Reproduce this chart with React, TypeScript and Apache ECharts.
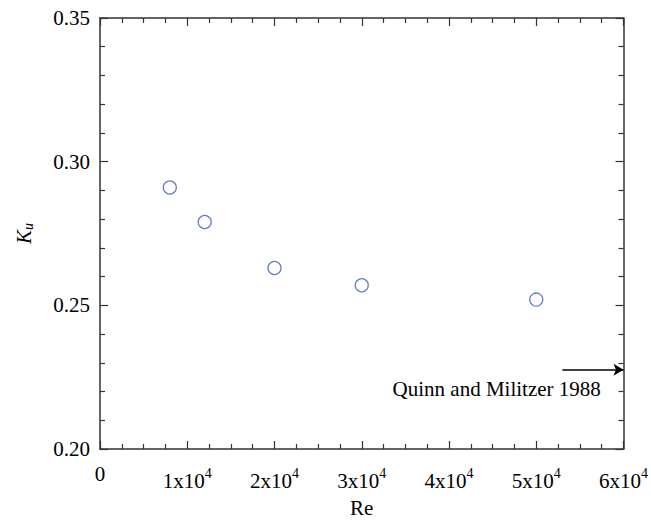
import React, { useEffect, useRef } from "react";
import * as echarts from "echarts";

const reValues = [8000, 12000, 20000, 30000, 50000];
const kuValues = [0.291, 0.279, 0.263, 0.257, 0.252];
const xTickValues = [0, 10000, 20000, 30000, 40000, 50000, 60000];
const xTickMantissa = ["0", "1", "2", "3", "4", "5", "6"];
const yTickValues = [0.2, 0.25, 0.3, 0.35];
const yTickLabels = ["0.20", "0.25", "0.30", "0.35"];
const refArrowStart = [53000, 0.2276];
const refArrowEnd = [60000, 0.2276];
const refLabelAnchor = [57400, 0.2208];
const refLabelText = "Quinn and Militzer 1988";

const FONT = "Liberation Serif";
const AXIS_COLOR = "#333333";
const MARK_COLOR = "#3b5bb5";

export default function App() {
  const ref = useRef<HTMLDivElement>(null);
  useEffect(() => {
    if (!ref.current) return;
    const chart = echarts.init(ref.current, undefined, { renderer: "svg" });
    const axisLine = { show: true, onZero: false, lineStyle: { color: AXIS_COLOR, width: 1.5 } };
    const xTicks = {
      axisTick: { show: true, inside: true, length: 8, lineStyle: { color: AXIS_COLOR, width: 1.2 } },
      minorTick: { show: true, splitNumber: 4, length: 5, lineStyle: { color: AXIS_COLOR, width: 1.2 } },
    };
    const yTicks = {
      axisTick: { show: true, inside: true, length: 8, lineStyle: { color: AXIS_COLOR, width: 1.2 } },
      minorTick: { show: true, splitNumber: 5, length: 5, lineStyle: { color: AXIS_COLOR, width: 1.2 } },
    };
    const xLabel = (v: number) => {
      const i = xTickValues.indexOf(v);
      const m = i >= 0 ? xTickMantissa[i] : String(v / 10000);
      if (v === 0) return "{z|" + m + "}";
      return "{b|" + m + "x10}{s|4}";
    };
    const yLabel = (v: number) => {
      const i = yTickValues.findIndex((t) => Math.abs(t - v) < 1e-9);
      return i >= 0 ? yTickLabels[i] : v.toFixed(2);
    };
    chart.setOption({
      animation: false,
      grid: { left: 100, right: 26, top: 18, bottom: 65 },
      xAxis: [
        {
          type: "value",
          min: 0,
          max: 60000,
          interval: 10000,
          position: "bottom",
          axisLine,
          ...xTicks,
          splitLine: { show: false },
          name: "Re",
          nameLocation: "middle",
          nameGap: 48,
          nameTextStyle: { fontFamily: FONT, fontSize: 21, color: "#000" },
          axisLabel: {
            margin: 17,
            formatter: xLabel,
            fontFamily: FONT,
            fontSize: 21,
            color: "#000",
            rich: {
              z: { fontFamily: FONT, fontSize: 21, color: "#000", lineHeight: 15 },
              b: { fontFamily: FONT, fontSize: 21, color: "#000", lineHeight: 25, verticalAlign: "bottom" },
              s: { fontFamily: FONT, fontSize: 14, color: "#000", lineHeight: 14, verticalAlign: "top" },
            },
          },
        },
        {
          type: "value",
          min: 0,
          max: 60000,
          interval: 10000,
          position: "top",
          axisLine,
          ...xTicks,
          splitLine: { show: false },
          axisLabel: { show: false },
        },
      ],
      yAxis: [
        {
          type: "value",
          min: 0.2,
          max: 0.35,
          interval: 0.05,
          position: "left",
          axisLine,
          ...yTicks,
          splitLine: { show: false },
          name: "{k|K}{u|u}",
          nameLocation: "middle",
          nameGap: 65,
          nameTextStyle: {
            fontFamily: FONT,
            fontSize: 21,
            rich: {
              k: { fontFamily: FONT, fontSize: 21, fontStyle: "italic", color: "#000", lineHeight: 22, verticalAlign: "top" },
              u: { fontFamily: FONT, fontSize: 14, fontStyle: "italic", color: "#000", lineHeight: 14, verticalAlign: "bottom" },
            },
          },
          axisLabel: { margin: 10, formatter: yLabel, fontFamily: FONT, fontSize: 21, color: "#000" },
        },
        {
          type: "value",
          min: 0.2,
          max: 0.35,
          interval: 0.05,
          position: "right",
          axisLine,
          ...yTicks,
          splitLine: { show: false },
          axisLabel: { show: false },
        },
      ],
      series: [
        {
          type: "scatter",
          data: reValues.map((x, i) => [x, kuValues[i]]),
          symbol: "circle",
          symbolSize: 13,
          itemStyle: { color: "#ffffff", borderColor: MARK_COLOR, borderWidth: 1.3 },
          markLine: {
            symbol: ["none", "arrow"],
            symbolSize: [9, 10],
            label: { show: false },
            lineStyle: { color: "#000", width: 1.5, type: "solid" },
            data: [[{ coord: refArrowStart }, { coord: refArrowEnd }]],
          },
        },
      ],
    });
    const p = chart.convertToPixel({ xAxisIndex: 0, yAxisIndex: 0 }, refLabelAnchor) as number[];
    chart.setOption({
      graphic: [
        {
          type: "text",
          x: p[0],
          y: p[1],
          style: {
            text: refLabelText,
            fontFamily: FONT,
            fontSize: 21,
            fill: "#000",
            align: "right",
            verticalAlign: "middle",
          },
        },
      ],
    });
    return () => chart.dispose();
  }, []);
  return <div ref={ref} style={{ position: "fixed", left: 0, top: 0, width: 651, height: 523, background: "#fff" }} />;
}
